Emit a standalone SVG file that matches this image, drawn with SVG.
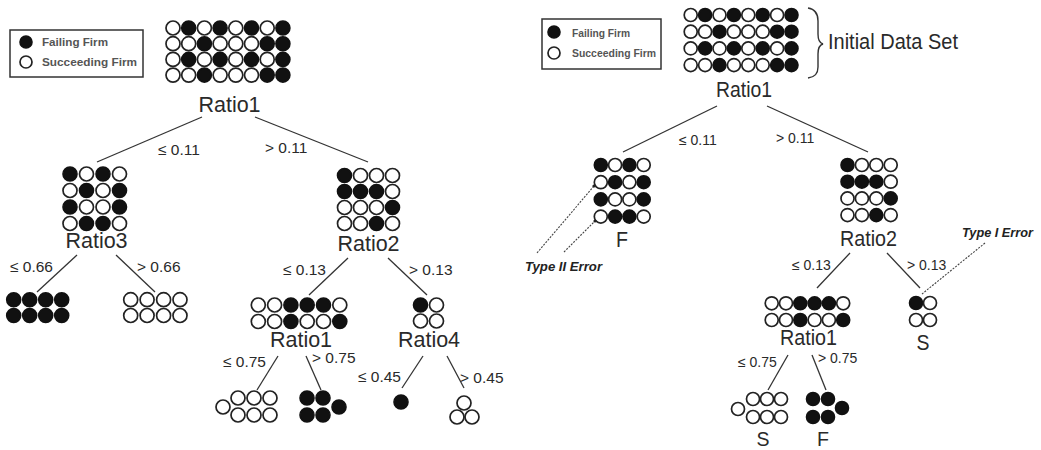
<svg xmlns="http://www.w3.org/2000/svg" width="1041" height="450" viewBox="0 0 1041 450">
<style>
  .f{fill:#111;stroke:#111;stroke-width:1.6}
  .o{fill:#fff;stroke:#222;stroke-width:1.7}
  .e{stroke:#333;stroke-width:1.3;fill:none}
  .d{stroke:#444;stroke-width:1.1;stroke-dasharray:2 1.3;fill:none}
  .lbl{font-family:"Liberation Sans",Arial,sans-serif;font-size:21.5px;fill:#2a2a2a;text-anchor:middle}
  .rl{font-family:"Liberation Sans",Arial,sans-serif;font-size:22px;fill:#2a2a2a;text-anchor:middle}
  .c{font-family:"Liberation Sans",Arial,sans-serif;font-size:15.5px;fill:#2a2a2a}
  .rc{font-family:"Liberation Sans",Arial,sans-serif;font-size:14px;fill:#2a2a2a}
  .leg{font-family:"Liberation Sans",Arial,sans-serif;font-size:10px;font-weight:bold;fill:#555}
  .err{font-family:"Liberation Sans",Arial,sans-serif;font-size:12.5px;font-weight:bold;font-style:italic;fill:#222}
  .L circle{r:7px}
  .R circle{r:6.5px}
</style>

<!-- ===================== Left tree ===================== -->
<g class="L">
  <g id="legend-left">
    <rect x="10" y="30" width="133" height="47" fill="#fff" stroke="#333" stroke-width="1.5"/>
    <circle class="f" cx="26" cy="42" style="r:6px"/>
    <circle class="o" cx="26" cy="62" style="r:6px"/>
    <text class="leg" x="42" y="46" textLength="66" lengthAdjust="spacingAndGlyphs">Failing Firm</text>
    <text class="leg" x="42" y="66" textLength="95" lengthAdjust="spacingAndGlyphs">Succeeding Firm</text>
  </g>

  <g id="connectors-left">
    <line class="e" x1="202" y1="117" x2="97" y2="162"/>
    <line class="e" x1="255" y1="117" x2="368" y2="162"/>
    <line class="e" x1="77" y1="255" x2="37" y2="292"/>
    <line class="e" x1="116" y1="255" x2="155" y2="292"/>
    <line class="e" x1="348" y1="258" x2="309" y2="295"/>
    <line class="e" x1="388" y1="258" x2="427" y2="295"/>
    <line class="e" x1="278" y1="356" x2="257" y2="390"/>
    <line class="e" x1="306" y1="356" x2="321" y2="390"/>
    <line class="e" x1="423" y1="356" x2="402" y2="388"/>
    <line class="e" x1="447" y1="356" x2="464" y2="388"/>
    <text class="c" x="158" y="155">≤ 0.11</text>
    <text class="c" x="265" y="153">&gt; 0.11</text>
    <text class="c" x="10" y="272">≤ 0.66</text>
    <text class="c" x="137" y="272">&gt; 0.66</text>
    <text class="c" x="283" y="275">≤ 0.13</text>
    <text class="c" x="409" y="275">&gt; 0.13</text>
    <text class="c" x="223" y="367">≤ 0.75</text>
    <text class="c" x="312" y="363">&gt; 0.75</text>
    <text class="c" x="358" y="382">≤ 0.45</text>
    <text class="c" x="460" y="383">&gt; 0.45</text>
  </g>

  <g id="L-root">
    <g transform="translate(173,28)">
      <circle class="o" cx="0" cy="0"/><circle class="f" cx="15.7" cy="0"/><circle class="o" cx="31.4" cy="0"/><circle class="f" cx="47.1" cy="0"/><circle class="o" cx="62.8" cy="0"/><circle class="f" cx="78.5" cy="0"/><circle class="o" cx="94.2" cy="0"/><circle class="f" cx="109.9" cy="0"/>
      <circle class="o" cx="0" cy="15.7"/><circle class="o" cx="15.7" cy="15.7"/><circle class="f" cx="31.4" cy="15.7"/><circle class="o" cx="47.1" cy="15.7"/><circle class="o" cx="62.8" cy="15.7"/><circle class="o" cx="78.5" cy="15.7"/><circle class="f" cx="94.2" cy="15.7"/><circle class="f" cx="109.9" cy="15.7"/>
      <circle class="o" cx="0" cy="31.4"/><circle class="f" cx="15.7" cy="31.4"/><circle class="o" cx="31.4" cy="31.4"/><circle class="f" cx="47.1" cy="31.4"/><circle class="o" cx="62.8" cy="31.4"/><circle class="f" cx="78.5" cy="31.4"/><circle class="o" cx="94.2" cy="31.4"/><circle class="f" cx="109.9" cy="31.4"/>
      <circle class="o" cx="0" cy="47.1"/><circle class="o" cx="15.7" cy="47.1"/><circle class="f" cx="31.4" cy="47.1"/><circle class="o" cx="47.1" cy="47.1"/><circle class="o" cx="62.8" cy="47.1"/><circle class="o" cx="78.5" cy="47.1"/><circle class="f" cx="94.2" cy="47.1"/><circle class="f" cx="109.9" cy="47.1"/>
    </g>
    <text class="lbl" x="229.5" y="112">Ratio1</text>
  </g>

  <g id="L-ratio3">
    <g transform="translate(70,174)">
      <circle class="f" cx="0" cy="0"/><circle class="o" cx="16.5" cy="0"/><circle class="f" cx="33" cy="0"/><circle class="o" cx="49.5" cy="0"/>
      <circle class="o" cx="0" cy="16.5"/><circle class="f" cx="16.5" cy="16.5"/><circle class="o" cx="33" cy="16.5"/><circle class="f" cx="49.5" cy="16.5"/>
      <circle class="f" cx="0" cy="33"/><circle class="o" cx="16.5" cy="33"/><circle class="o" cx="33" cy="33"/><circle class="f" cx="49.5" cy="33"/>
      <circle class="o" cx="0" cy="49.5"/><circle class="f" cx="16.5" cy="49.5"/><circle class="f" cx="33" cy="49.5"/><circle class="o" cx="49.5" cy="49.5"/>
    </g>
    <text class="lbl" x="96.5" y="248">Ratio3</text>
  </g>

  <g id="L-leaf-fail">
    <circle class="f" cx="13.7" cy="299.7"/><circle class="f" cx="29.7" cy="299.7"/><circle class="f" cx="45.7" cy="299.7"/><circle class="f" cx="61.7" cy="299.7"/>
    <circle class="f" cx="13.7" cy="315.5"/><circle class="f" cx="29.7" cy="315.5"/><circle class="f" cx="45.7" cy="315.5"/><circle class="f" cx="61.7" cy="315.5"/>
  </g>

  <g id="L-leaf-succeed">
    <circle class="o" cx="130.7" cy="299.7"/><circle class="o" cx="147.1" cy="299.7"/><circle class="o" cx="163.6" cy="299.7"/><circle class="o" cx="180" cy="299.7"/>
    <circle class="o" cx="130.7" cy="315.5"/><circle class="o" cx="147.1" cy="315.5"/><circle class="o" cx="163.6" cy="315.5"/><circle class="o" cx="180" cy="315.5"/>
  </g>

  <g id="L-ratio2">
    <g transform="translate(344.5,175.5)">
      <circle class="f" cx="0" cy="0"/><circle class="o" cx="16" cy="0"/><circle class="o" cx="32" cy="0"/><circle class="o" cx="48" cy="0"/>
      <circle class="f" cx="0" cy="16"/><circle class="f" cx="16" cy="16"/><circle class="f" cx="32" cy="16"/><circle class="o" cx="48" cy="16"/>
      <circle class="o" cx="0" cy="32"/><circle class="o" cx="16" cy="32"/><circle class="o" cx="32" cy="32"/><circle class="f" cx="48" cy="32"/>
      <circle class="o" cx="0" cy="48"/><circle class="o" cx="16" cy="48"/><circle class="f" cx="32" cy="48"/><circle class="o" cx="48" cy="48"/>
    </g>
    <text class="lbl" x="368.5" y="251">Ratio2</text>
  </g>

  <g id="L-ratio1-sub">
    <g transform="translate(258.3,305)">
      <circle class="o" cx="0" cy="0"/><circle class="o" cx="16.3" cy="0"/><circle class="f" cx="32.6" cy="0"/><circle class="f" cx="48.9" cy="0"/><circle class="f" cx="65.2" cy="0"/><circle class="o" cx="81.5" cy="0"/>
      <circle class="o" cx="0" cy="16.5"/><circle class="o" cx="16.3" cy="16.5"/><circle class="f" cx="32.6" cy="16.5"/><circle class="o" cx="48.9" cy="16.5"/><circle class="o" cx="65.2" cy="16.5"/><circle class="f" cx="81.5" cy="16.5"/>
    </g>
    <text class="lbl" x="301" y="347">Ratio1</text>
  </g>

  <g id="L-leaf-s7">
    <circle class="o" cx="223" cy="407"/>
    <circle class="o" cx="238" cy="398"/><circle class="o" cx="254" cy="398"/><circle class="o" cx="270" cy="398"/>
    <circle class="o" cx="238" cy="415"/><circle class="o" cx="254" cy="415"/><circle class="o" cx="270" cy="415"/>
  </g>

  <g id="L-leaf-f5">
    <circle class="f" cx="307" cy="398"/><circle class="f" cx="323" cy="398"/>
    <circle class="f" cx="307" cy="415"/><circle class="f" cx="323" cy="415"/>
    <circle class="f" cx="339" cy="407"/>
  </g>

  <g id="L-ratio4">
    <circle class="f" cx="420.5" cy="305"/><circle class="o" cx="436.5" cy="305"/>
    <circle class="o" cx="420.5" cy="321"/><circle class="o" cx="436.5" cy="321"/>
    <text class="lbl" x="429" y="347">Ratio4</text>
  </g>

  <g id="L-leaf-f1">
    <circle class="f" cx="401" cy="402"/>
  </g>

  <g id="L-leaf-s3">
    <circle class="o" cx="464" cy="403"/>
    <circle class="o" cx="457" cy="417"/><circle class="o" cx="472" cy="417"/>
  </g>
</g>

<!-- ===================== Right tree ===================== -->
<g class="R">
  <g id="legend-right">
    <rect x="542" y="19" width="119" height="50" fill="#fff" stroke="#333" stroke-width="1.5"/>
    <circle class="f" cx="554" cy="32" style="r:6px"/>
    <circle class="o" cx="554" cy="53" style="r:6px"/>
    <text class="leg" x="572" y="37" textLength="58" lengthAdjust="spacingAndGlyphs">Failing Firm</text>
    <text class="leg" x="572" y="57" textLength="84" lengthAdjust="spacingAndGlyphs">Succeeding Firm</text>
  </g>

  <g id="connectors-right">
    <line class="e" x1="717" y1="106" x2="623" y2="152"/>
    <line class="e" x1="767" y1="106" x2="868" y2="152"/>
    <line class="e" x1="850" y1="253" x2="817" y2="288"/>
    <line class="e" x1="887" y1="253" x2="920" y2="288"/>
    <line class="e" x1="788" y1="355" x2="768" y2="390"/>
    <line class="e" x1="812" y1="355" x2="826" y2="390"/>
    <text class="rc" x="679" y="145">≤ 0.11</text>
    <text class="rc" x="776" y="143">&gt; 0.11</text>
    <text class="rc" x="792" y="270">≤ 0.13</text>
    <text class="rc" x="907" y="270">&gt; 0.13</text>
    <text class="rc" x="738" y="367">≤ 0.75</text>
    <text class="rc" x="818" y="363">&gt; 0.75</text>
  </g>

  <g id="R-root">
    <g transform="translate(690.7,15)">
      <circle class="o" cx="0" cy="0"/><circle class="f" cx="14.4" cy="0"/><circle class="o" cx="28.8" cy="0"/><circle class="f" cx="43.2" cy="0"/><circle class="o" cx="57.6" cy="0"/><circle class="f" cx="72" cy="0"/><circle class="o" cx="86.4" cy="0"/><circle class="f" cx="100.8" cy="0"/>
      <circle class="o" cx="0" cy="16.7"/><circle class="o" cx="14.4" cy="16.7"/><circle class="f" cx="28.8" cy="16.7"/><circle class="o" cx="43.2" cy="16.7"/><circle class="o" cx="57.6" cy="16.7"/><circle class="o" cx="72" cy="16.7"/><circle class="f" cx="86.4" cy="16.7"/><circle class="f" cx="100.8" cy="16.7"/>
      <circle class="o" cx="0" cy="33.4"/><circle class="f" cx="14.4" cy="33.4"/><circle class="o" cx="28.8" cy="33.4"/><circle class="f" cx="43.2" cy="33.4"/><circle class="o" cx="57.6" cy="33.4"/><circle class="f" cx="72" cy="33.4"/><circle class="o" cx="86.4" cy="33.4"/><circle class="f" cx="100.8" cy="33.4"/>
      <circle class="o" cx="0" cy="50.1"/><circle class="o" cx="14.4" cy="50.1"/><circle class="f" cx="28.8" cy="50.1"/><circle class="o" cx="43.2" cy="50.1"/><circle class="o" cx="57.6" cy="50.1"/><circle class="o" cx="72" cy="50.1"/><circle class="f" cx="86.4" cy="50.1"/><circle class="f" cx="100.8" cy="50.1"/>
    </g>
    <text class="rl" x="744" y="97" textLength="56" lengthAdjust="spacingAndGlyphs">Ratio1</text>
  </g>

  <g id="R-dataset-note">
    <path d="M808,8 C815,9 818,13 818,21 L818,34 C818,40 819,43 823,44 C819,45 818,48 818,54 L818,67 C818,74 815,77 808,78" fill="none" stroke="#333" stroke-width="1.4"/>
    <text class="rl" x="893" y="49" style="font-size:21.5px" textLength="130" lengthAdjust="spacingAndGlyphs">Initial Data Set</text>
  </g>

  <g id="R-leaf-F">
    <g transform="translate(600.8,165)">
      <circle class="f" cx="0" cy="0"/><circle class="o" cx="14.3" cy="0"/><circle class="f" cx="28.6" cy="0"/><circle class="o" cx="42.9" cy="0"/>
      <circle class="o" cx="0" cy="17.2"/><circle class="f" cx="14.3" cy="17.2"/><circle class="o" cx="28.6" cy="17.2"/><circle class="f" cx="42.9" cy="17.2"/>
      <circle class="f" cx="0" cy="34.4"/><circle class="o" cx="14.3" cy="34.4"/><circle class="o" cx="28.6" cy="34.4"/><circle class="f" cx="42.9" cy="34.4"/>
      <circle class="o" cx="0" cy="51.6"/><circle class="f" cx="14.3" cy="51.6"/><circle class="f" cx="28.6" cy="51.6"/><circle class="o" cx="42.9" cy="51.6"/>
    </g>
    <text class="rl" x="622" y="247" textLength="12" lengthAdjust="spacingAndGlyphs">F</text>
  </g>

  <g id="R-type2">
    <line class="d" x1="537" y1="253" x2="594" y2="186"/>
    <line class="d" x1="564" y1="252" x2="595" y2="221"/>
    <circle cx="594" cy="186" fill="#222" style="r:1.6px"/>
    <circle cx="595" cy="221" fill="#222" style="r:1.6px"/>
    <text class="err" x="525" y="271" textLength="77" lengthAdjust="spacingAndGlyphs">Type II Error</text>
  </g>

  <g id="R-ratio2">
    <g transform="translate(847.5,165)">
      <circle class="f" cx="0" cy="0"/><circle class="o" cx="14.4" cy="0"/><circle class="o" cx="28.8" cy="0"/><circle class="o" cx="43.2" cy="0"/>
      <circle class="f" cx="0" cy="16.7"/><circle class="f" cx="14.4" cy="16.7"/><circle class="f" cx="28.8" cy="16.7"/><circle class="o" cx="43.2" cy="16.7"/>
      <circle class="o" cx="0" cy="33.4"/><circle class="o" cx="14.4" cy="33.4"/><circle class="o" cx="28.8" cy="33.4"/><circle class="f" cx="43.2" cy="33.4"/>
      <circle class="o" cx="0" cy="50.1"/><circle class="o" cx="14.4" cy="50.1"/><circle class="f" cx="28.8" cy="50.1"/><circle class="o" cx="43.2" cy="50.1"/>
    </g>
    <text class="rl" x="868.5" y="246" textLength="57" lengthAdjust="spacingAndGlyphs">Ratio2</text>
  </g>

  <g id="R-type1">
    <line class="d" x1="985" y1="243" x2="922" y2="294"/>
    <text class="err" x="962" y="237" textLength="71" lengthAdjust="spacingAndGlyphs">Type I Error</text>
  </g>

  <g id="R-ratio1-sub">
    <g transform="translate(771.7,303.3)">
      <circle class="o" cx="0" cy="0"/><circle class="o" cx="14.3" cy="0"/><circle class="f" cx="28.6" cy="0"/><circle class="f" cx="42.9" cy="0"/><circle class="f" cx="57.2" cy="0"/><circle class="o" cx="71.5" cy="0"/>
      <circle class="o" cx="0" cy="16.7"/><circle class="o" cx="14.3" cy="16.7"/><circle class="f" cx="28.6" cy="16.7"/><circle class="o" cx="42.9" cy="16.7"/><circle class="o" cx="57.2" cy="16.7"/><circle class="f" cx="71.5" cy="16.7"/>
    </g>
    <text class="rl" x="808.5" y="345" textLength="57" lengthAdjust="spacingAndGlyphs">Ratio1</text>
  </g>

  <g id="R-leaf-S-top">
    <circle class="f" cx="916" cy="303"/><circle class="o" cx="930" cy="303"/>
    <circle class="o" cx="916" cy="320"/><circle class="o" cx="930" cy="320"/>
    <text class="rl" x="923" y="350" textLength="13" lengthAdjust="spacingAndGlyphs">S</text>
  </g>

  <g id="R-leaf-S">
    <circle class="o" cx="738" cy="409"/>
    <circle class="o" cx="753" cy="399"/><circle class="o" cx="767" cy="399"/><circle class="o" cx="781" cy="399"/>
    <circle class="o" cx="753" cy="417"/><circle class="o" cx="767" cy="417"/><circle class="o" cx="781" cy="417"/>
    <text class="rl" x="763" y="446" style="font-size:21px" textLength="13" lengthAdjust="spacingAndGlyphs">S</text>
  </g>

  <g id="R-leaf-F-sub">
    <circle class="f" cx="813" cy="399"/><circle class="f" cx="828" cy="399"/>
    <circle class="f" cx="813" cy="417"/><circle class="f" cx="828" cy="417"/>
    <circle class="f" cx="842" cy="408"/>
    <text class="rl" x="823" y="446" style="font-size:21px" textLength="12" lengthAdjust="spacingAndGlyphs">F</text>
  </g>
</g>
</svg>
